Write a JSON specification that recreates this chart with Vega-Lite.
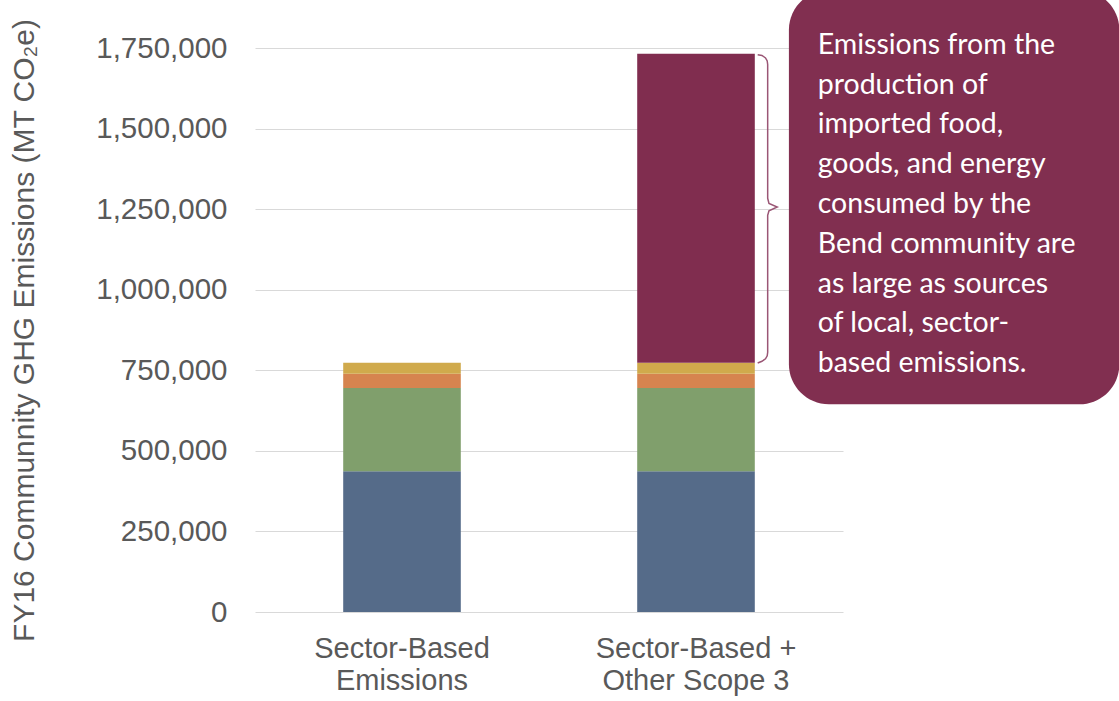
{
  "$schema": "https://vega.github.io/schema/vega-lite/v6.json",
  "width": 588,
  "height": 564,
  "padding": {"left": 255, "top": 48, "right": 276, "bottom": 89},
  "autosize": {"type": "none"},
  "config": {
    "view": {"stroke": null},
    "font": "Liberation Sans"
  },
  "datasets": {
    "bars": [
      {"scenario": "Sector-Based Emissions", "source": "Energy", "ord": 1, "mt": 436600},
      {"scenario": "Sector-Based Emissions", "source": "Transportation", "ord": 2, "mt": 258400},
      {"scenario": "Sector-Based Emissions", "source": "Waste", "ord": 3, "mt": 44600},
      {"scenario": "Sector-Based Emissions", "source": "Other Sector", "ord": 4, "mt": 34100},
      {"scenario": "Sector-Based + Other Scope 3", "source": "Energy", "ord": 1, "mt": 436600},
      {"scenario": "Sector-Based + Other Scope 3", "source": "Transportation", "ord": 2, "mt": 258400},
      {"scenario": "Sector-Based + Other Scope 3", "source": "Waste", "ord": 3, "mt": 44600},
      {"scenario": "Sector-Based + Other Scope 3", "source": "Other Sector", "ord": 4, "mt": 34100},
      {"scenario": "Sector-Based + Other Scope 3", "source": "Other Scope 3", "ord": 5, "mt": 958300}
    ],
    "brace": [
      {"i": 1, "px": 0.8549, "mt": 1729100},
      {"i": 2, "px": 0.8622, "mt": 1727000},
      {"i": 3, "px": 0.8682, "mt": 1719200},
      {"i": 4, "px": 0.8711, "mt": 1709900},
      {"i": 5, "px": 0.8719, "mt": 1699000},
      {"i": 6, "px": 0.8719, "mt": 1283700},
      {"i": 7, "px": 0.8741, "mt": 1268000},
      {"i": 8, "px": 0.8882, "mt": 1256500},
      {"i": 9, "px": 0.8741, "mt": 1244700},
      {"i": 10, "px": 0.8719, "mt": 1230700},
      {"i": 11, "px": 0.8719, "mt": 805800},
      {"i": 12, "px": 0.8711, "mt": 795000},
      {"i": 13, "px": 0.8682, "mt": 785600},
      {"i": 14, "px": 0.8622, "mt": 777900},
      {"i": 15, "px": 0.8549, "mt": 772600}
    ],
    "box": [
      {"px": 0.908, "px2": 1.47, "mt": 644500, "mt2": 1930000}
    ],
    "note": [
      {"px": 0.957, "mt": 1732200, "text": ["Emissions from the", "production of", "imported food,", "goods, and energy", "consumed by the", "Bend community are", "as large as sources", "of local, sector-", "based emissions."]}
    ]
  },
  "layer": [
    {
      "data": {"name": "bars"},
      "mark": {"type": "bar", "width": {"band": 0.4}},
      "encoding": {
        "x": {
          "field": "scenario",
          "type": "nominal",
          "sort": ["Sector-Based Emissions", "Sector-Based + Other Scope 3"],
          "scale": {"paddingInner": 0, "paddingOuter": 0},
          "axis": {
            "title": null,
            "domain": false,
            "ticks": false,
            "labelAngle": 0,
            "labelFontSize": 29,
            "labelColor": "#595959",
            "labelPadding": 22,
            "labelLineHeight": 32,
            "labelLimit": 0,
            "labelExpr": "datum.label == 'Sector-Based Emissions' ? ['Sector-Based', 'Emissions'] : ['Sector-Based +', 'Other Scope 3']"
          }
        },
        "y": {
          "field": "mt",
          "type": "quantitative",
          "stack": "zero",
          "scale": {"domain": [0, 1750000], "nice": false, "zero": true},
          "axis": {
            "title": "FY16 Communnity GHG Emissions (MT CO₂e)",
            "titleFontSize": 30,
            "titleFontWeight": "normal",
            "titleColor": "#595959",
            "titlePadding": 56,
            "values": [0, 250000, 500000, 750000, 1000000, 1250000, 1500000, 1750000],
            "labelExpr": "format(datum.value, ',')",
            "domain": false,
            "ticks": false,
            "labelFontSize": 29.5,
            "labelColor": "#595959",
            "labelPadding": 28,
            "gridColor": "#d9d9d9",
            "gridWidth": 1
          }
        },
        "order": {"field": "ord", "type": "quantitative"},
        "color": {
          "field": "source",
          "type": "nominal",
          "legend": null,
          "scale": {
            "domain": ["Energy", "Transportation", "Waste", "Other Sector", "Other Scope 3"],
            "range": ["#556b89", "#809f6c", "#d6844f", "#d0aa4c", "#802d4f"]
          }
        }
      }
    },
    {
      "data": {"name": "brace"},
      "mark": {"type": "line", "stroke": "#9a5675", "strokeWidth": 1.5, "clip": false},
      "encoding": {
        "x": {"field": "px", "type": "quantitative", "scale": {"domain": [0, 1]}, "axis": null},
        "y": {"field": "mt", "type": "quantitative", "scale": {"domain": [0, 1750000], "nice": false}},
        "order": {"field": "i", "type": "quantitative"}
      }
    },
    {
      "data": {"name": "box"},
      "mark": {"type": "rect", "color": "#812f50", "cornerRadius": 40, "clip": false},
      "encoding": {
        "x": {"field": "px", "type": "quantitative", "scale": {"domain": [0, 1]}, "axis": null},
        "x2": {"field": "px2"},
        "y": {"field": "mt", "type": "quantitative", "scale": {"domain": [0, 1750000], "nice": false}},
        "y2": {"field": "mt2"}
      }
    },
    {
      "data": {"name": "note"},
      "mark": {
        "type": "text",
        "align": "left",
        "baseline": "alphabetic",
        "font": "Lato",
        "fontSize": 28.5,
        "lineHeight": 39.8,
        "color": "white"
      },
      "encoding": {
        "x": {"field": "px", "type": "quantitative", "scale": {"domain": [0, 1]}, "axis": null},
        "y": {"field": "mt", "type": "quantitative", "scale": {"domain": [0, 1750000], "nice": false}},
        "text": {"field": "text"}
      }
    }
  ],
  "resolve": {"scale": {"x": "independent"}, "axis": {"x": "independent"}}
}
